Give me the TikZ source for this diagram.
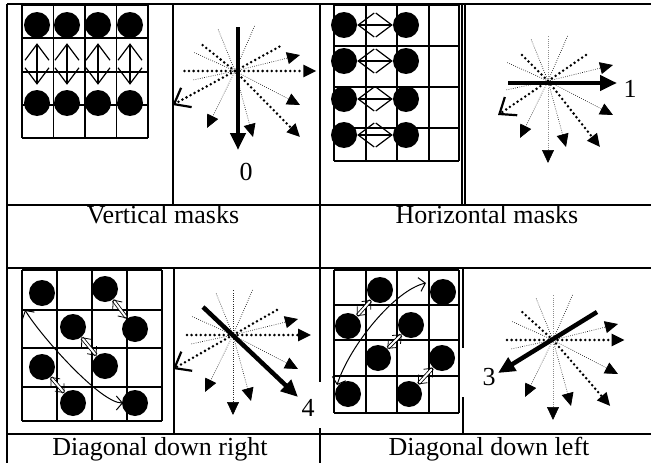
\documentclass[tikz,border=0pt]{standalone}
\usepackage{fontspec}
\setmainfont{Liberation Serif}
\usetikzlibrary{arrows.meta}
\tikzset{
  rule/.style={line width=1.8pt,black},
  gridline/.style={line width=1.6pt,black},
  disc/.style={circle,fill=black,minimum size=26pt,inner sep=0pt},
  pairarrow/.style={line width=1.2pt,{Straight Barb[length=16pt,width=24pt]}-{Straight Barb[length=16pt,width=24pt]}},
  hashpair/.style={line width=0.8pt,double distance=2pt,{Straight Barb[length=7pt,width=12pt]}-{Straight Barb[length=7pt,width=12pt]}},
  sweep/.style={line width=1pt,{Straight Barb[length=6pt,width=14pt]}-{Straight Barb[length=6pt,width=14pt]}},
  thinray/.style={black!85,line width=0.7pt,dash pattern=on 0.7pt off 1.5pt},
  thickray/.style={black,line width=2.8pt,line cap=round,dash pattern=on 0pt off 4.6pt},
  fill head/.style={-{Triangle[length=13pt,width=12pt,color=black,fill=black]}},
  open head/.style={-{Straight Barb[length=14pt,width=22pt,line width=2.2pt]}},
  dirarrow/.style={line width=4.5pt,-{Triangle[length=17pt,width=15pt]}},
  numlab/.style={font=\fontsize{26}{30}\selectfont,inner sep=0pt},
  capt/.style={font=\fontsize{26}{30}\selectfont,inner sep=0pt,anchor=base},
  fan/.pic={
    \draw[thinray] (0,0) -- (-17,-42);
    \draw[thinray] (0,0) -- (20,-46);
    \draw[thinray] (0,0) -- (-42,-19);
    \draw[thinray] (0,0) -- (-42,9);
    \draw[thinray,fill head] (0,0) -- (65,-16);
    \draw[thinray,fill head] (0,0) -- (65,34);
    \draw[thinray,fill head] (0,0) -- (-28,57);
    \draw[thinray,fill head] (0,0) -- (18,66);
  }
}

\begin{document}
\begin{tikzpicture}[x=1pt,y=-1pt]
  \useasboundingbox (0,0) rectangle (651,463);

  % table rules
  \draw[rule] (7,4) -- (651,4);
  \draw[rule] (7,205) -- (651,205);
  \draw[rule] (7,268) -- (651,268);
  \draw[rule] (7,434) -- (651,434);
  \draw[rule] (7,4) -- (7,463);
  \draw[rule] (320,4) -- (320,382);
  \draw[rule] (320,428) -- (320,463);
  \draw[rule] (173,4) -- (173,205);
  \draw[line width=1.2pt] (462,4) -- (462,205);
  \draw[line width=1.2pt] (465,4) -- (465,205);
  \draw[rule] (174,268) -- (174,434);
  \draw[rule] (463,268) -- (463,348);
  \draw[rule] (463,397) -- (463,434);

  % vertical masks
  \foreach \x in {22,53.5,85,116.5,148} \draw[gridline] (\x,5) -- (\x,138);
  \foreach \y in {5,38,72,105,138} \draw[gridline] (22,\y) -- (148,\y);
  \foreach \i/\x in {1/37,2/67,3/98,4/130} {
    \node[disc] (t\i) at (\x,25) {};
    \node[disc] (b\i) at (\x,103) {};
    \draw[pairarrow,shorten <=5pt,shorten >=5pt] (t\i) -- (b\i);
  }

  % horizontal masks
  \foreach \x in {334,366,397,429,459} \draw[gridline] (\x,5) -- (\x,161);
  \foreach \y in {5,46,87,128,161} \draw[gridline] (334,\y) -- (459,\y);
  \foreach \i/\y in {1/25,2/61,3/99,4/135} {
    \node[disc] (l\i) at (344,\y) {};
    \node[disc] (r\i) at (406,\y) {};
    \draw[pairarrow] (l\i) -- (r\i);
  }

  % diagonal down right
  \foreach \x in {22,57,92,127,162} \draw[gridline] (\x,270) -- (\x,421);
  \foreach \y in {270,310,348,387,421} \draw[gridline] (22,\y) -- (162,\y);
  \node[disc] (d1) at (42,293) {};
  \node[disc] (d2) at (105,289) {};
  \node[disc] (d3) at (73,327) {};
  \node[disc] (d4) at (135,329) {};
  \node[disc] (d5) at (42,367) {};
  \node[disc] (d6) at (105,366) {};
  \node[disc] (d7) at (73,403) {};
  \node[disc] (d8) at (135,403) {};
  \draw[hashpair] (d2) -- (d4);
  \draw[hashpair] (d3) -- (d6);
  \draw[hashpair] (d5) -- (d7);
  \coordinate (k1) at (123,403);
  \coordinate (k2) at (25,310);
  \draw[sweep] (k1) .. controls (100,403) and (40,335) .. (k2);

  % diagonal down left
  \foreach \x in {334,366,397,429,459} \draw[gridline] (\x,270) -- (\x,413);
  \foreach \y in {270,305,340,376,413} \draw[gridline] (334,\y) -- (459,\y);
  \node[disc] (e1) at (380,290) {};
  \node[disc] (e2) at (443,292) {};
  \node[disc] (e3) at (348,326) {};
  \node[disc] (e4) at (411,325) {};
  \node[disc] (e5) at (378,358) {};
  \node[disc] (e6) at (442,358) {};
  \node[disc] (e7) at (348,394) {};
  \node[disc] (e8) at (409,394) {};
  \draw[hashpair] (e1) -- (e3);
  \draw[hashpair] (e4) -- (e5);
  \draw[hashpair] (e6) -- (e8);
  \coordinate (m1) at (337,385);
  \coordinate (m2) at (426,283);
  \draw[sweep] (m1) .. controls (350,345) and (395,290) .. (m2);

  % direction fans
  \begin{scope}[shift={(235,71)},xscale=1.25]
    \pic {fan};
    \draw[thickray] (0,0) -- (-42,0);
    \draw[thickray,fill head] (0,0) -- (65,0);
    \draw[thickray] (0,0) -- (38,-26);
    \draw[thickray,open head] (0,0) -- (-50,34);
    \draw[thickray] (0,0) -- (-28,-28);
    \draw[thickray,fill head] (0,0) -- (52,66);
  \end{scope}
  \begin{scope}[shift={(548,81)}]
    \pic {fan};
    \draw[thinray,black!45] (0,0) -- (0,-46);
    \draw[thinray,black!45,fill head] (0,0) -- (0,82);
    \draw[thickray] (0,0) -- (38,-26);
    \draw[thickray,open head] (0,0) -- (-50,34);
    \draw[thickray] (0,0) -- (-28,-28);
    \draw[thickray,fill head] (0,0) -- (52,66);
  \end{scope}
  \begin{scope}[shift={(233,335)},xscale=1.2]
    \pic {fan};
    \draw[thinray] (0,0) -- (0,-46);
    \draw[thinray,fill head] (0,0) -- (0,80);
    \draw[thickray] (0,0) -- (-42,0);
    \draw[thickray,fill head] (0,0) -- (65,0);
    \draw[thickray] (0,0) -- (38,-26);
    \draw[thickray,open head] (0,0) -- (-50,34);
  \end{scope}
  \begin{scope}[shift={(553,340)},xscale=1.1]
    \pic {fan};
    \draw[thinray,black!45] (0,0) -- (0,-46);
    \draw[thinray,black!45,fill head] (0,0) -- (0,80);
    \draw[thickray] (0,0) -- (-42,0);
    \draw[thickray,fill head] (0,0) -- (65,0);
    \draw[thickray] (0,0) -- (-28,-28);
    \draw[thickray,fill head] (0,0) -- (52,66);
  \end{scope}

  % chosen directions
  \draw[dirarrow] (238,27) -- (238,150);
  \draw[dirarrow] (508,83) -- (617,83);
  \draw[dirarrow] (203,307) -- (298,397);
  \draw[dirarrow] (597,312) -- (498,373);
  \node[numlab] (lab0) at (246,172) {0};
  \node[numlab] (lab1) at (630,89) {1};
  \node[numlab] (lab4) at (308,408) {4};
  \node[numlab] (lab3) at (489,377) {3};

  % captions
  \node[capt] (vcap) at (163,223) {Vertical masks};
  \node[capt] (hcap) at (487,223) {Horizontal masks};
  \node[capt] (rcap) at (160,455) {Diagonal down right};
  \node[capt] (lcap) at (489,455) {Diagonal down left};
\end{tikzpicture}
\end{document}
